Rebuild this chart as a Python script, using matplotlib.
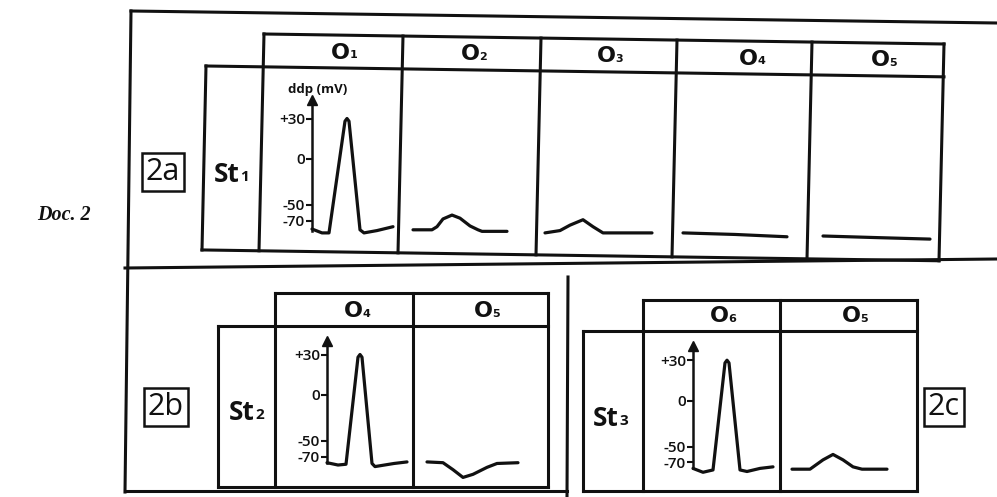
import numpy as np
import matplotlib
matplotlib.use("Agg")
import matplotlib.pyplot as plt
from matplotlib.ticker import NullLocator

plt.rcParams['font.family'] = ['Open Sans', 'DejaVu Sans']

# ---------------- data ----------------
doc_label = "Doc. 2"
panel_labels = ["2a", "2b", "2c"]
stim_labels = ["St", "St", "St"]
stim_subs = ["1", "2", "3"]
row_a_heads = ["1", "2", "3", "4", "5"]      # O1..O5
row_b_heads = ["4", "5"]                      # O4, O5
row_c_heads = ["6", "5"]                      # O6, O5
y_label = "ddp (mV)"
tick_values = [30, 0, -50, -70]
tick_labels = ["+30", "0", "-50", "-70"]

# time in ms, potential in mV (schematic recordings)
a_o1_t = [0, 1.0, 1.7, 3.3, 3.5, 3.7, 4.8, 5.2, 6.5, 8.1]
a_o1_v = [-81, -86, -86, 28, 30, 28, -82, -86, -83, -78]
a_o2_t = [1.0, 2.9, 3.4, 4.0, 4.9, 5.7, 6.7, 7.5, 7.9, 10.4]
a_o2_v = [-82, -82, -78, -68, -63, -67, -77, -82, -84, -84]
a_o3_t = [0.4, 1.9, 2.9, 4.2, 5.2, 6.2, 11.1]
a_o3_v = [-86, -83, -76, -69, -78, -86, -86]
a_o4_t = [0.6, 5.8, 11.0]
a_o4_v = [-86, -88, -91]
a_o5_t = [1.1, 6.3, 11.8]
a_o5_v = [-90, -92, -94]

b_o4_t = [0, 1.1, 1.9, 3.1, 3.3, 3.5, 4.5, 4.8, 6.7, 8.0]
b_o4_v = [-78, -81, -80, 28, 30, 28, -79, -83, -79, -77]
b_o5_t = [1.4, 3.0, 4.0, 5.0, 6.0, 7.4, 8.4, 10.5]
b_o5_v = [-77, -78, -87, -97, -93, -84, -79, -78]

c_o6_t = [0, 1.0, 2.0, 3.2, 3.4, 3.6, 4.7, 5.4, 6.7, 8.0]
c_o6_v = [-78, -83, -80, 28, 30, 28, -80, -82, -78, -76]
c_o5_t = [1.2, 3.0, 4.3, 5.3, 6.3, 7.3, 8.2, 10.7]
c_o5_v = [-79, -79, -67, -60, -67, -76, -79, -79]

# ---------------- figure ----------------
W, H = 997, 497
fig = plt.figure(figsize=(W / 100, H / 100), dpi=100)
fig.patch.set_facecolor("white")
bg = fig.add_axes([0, 0, 1, 1])
bg.set_xlim(0, W)
bg.set_ylim(H, 0)
bg.axis("off")

INK = "#111111"
LW = 2.2


def line(x0, y0, x1, y1, lw=LW):
    bg.plot([x0, x1], [y0, y1], color=INK, lw=lw, solid_capstyle="projecting", clip_on=False)


# schematic (non-linear) potential axis, as drawn in the document
SC_MV = [-70, -50, 0, 30]
SC_PX = [-61.5, -46, 0, 40.5]


def fwd(v):
    v = np.asarray(v, dtype=float)
    out = np.interp(v, SC_MV, SC_PX)
    out = np.where(v < -70, -61.5 + (v + 70) * 0.775, out)
    out = np.where(v > 30, 40.5 + (v - 30) * 1.35, out)
    return out


def inv(g):
    g = np.asarray(g, dtype=float)
    out = np.interp(g, SC_PX, SC_MV)
    out = np.where(g < -61.5, -70 + (g + 61.5) / 0.775, out)
    out = np.where(g > 40.5, 30 + (g - 40.5) / 1.35, out)
    return out


def cell_axes(L, T, R, B, Z, show_axis=False):
    ax = fig.add_axes([L / W, 1 - B / H, (R - L) / W, (B - T) / H])
    ax.set_yscale("function", functions=(fwd, inv))
    ax.set_ylim(float(inv(Z - B)), float(inv(Z - T)))
    ax.set_xlim(0, (R - L) / 10)
    ax.patch.set_visible(False)
    for s in ["top", "right", "bottom"]:
        ax.spines[s].set_visible(False)
    ax.set_xticks([])
    ax.yaxis.set_minor_locator(NullLocator())
    if show_axis:
        ax.spines["left"].set_linewidth(1.8)
        ax.spines["left"].set_color(INK)
        ax.set_yticks(tick_values)
        ax.set_yticklabels(tick_labels, fontweight="semibold")
        ax.tick_params(axis="y", direction="out", length=4, width=1.5, pad=1,
                       labelsize=11, colors=INK)
        ax.plot([0], [1], marker="^", ms=7, color=INK, transform=ax.transAxes,
                clip_on=False)
    else:
        ax.spines["left"].set_visible(False)
        ax.set_yticks([])
    return ax


def trace(ax, t, v):
    ax.plot(t, v, color=INK, lw=2.3, clip_on=False,
            solid_joinstyle="round", solid_capstyle="round")


def sub_label(x, y, main, sub, size, subsize, weight, family=None, gap=0.0):
    kw = {} if family is None else {"family": family}
    t = bg.text(x, y, main, ha="center", va="center", fontsize=size,
                fontweight=weight, color=INK, **kw)
    bg.annotate(sub, xy=(1, 0.12), xycoords=t, xytext=(gap, 0),
                textcoords="offset points", ha="left", va="bottom",
                fontsize=subsize, fontweight=weight, color=INK, **kw)


def boxed(x, y, txt):
    bg.text(x, y, txt, ha="center", va="center", fontsize=22, color=INK,
            bbox=dict(boxstyle="square,pad=0.12", fc="white", ec=INK, lw=1.8))


HEAD_FONT = ["DejaVu Sans"]

# ---- Doc. 2 ----
bg.text(64, 215, doc_label, ha="center", va="center", fontsize=14.5,
        family=["Liberation Serif", "DejaVu Serif"], style="italic",
        fontweight="bold", color=INK)

# ---- panel 2a frame (slightly skewed scan) ----
line(131, 11, 997, 23)
line(131, 11, 125, 492)
line(125, 268, 997, 259)
line(125, 491, 567, 491)
line(568, 277, 567, 497)

sl = 0.0147


def ytop(x):
    return 34 + sl * (x - 264)


def ymid(x):
    return 66 + sl * (x - 206)


def ybot(x):
    return 250 + sl * (x - 206)


line(264, ytop(264), 944, ytop(944))
line(206, ymid(206), 944, ymid(944))
line(202, ybot(202), 939, ybot(939))
line(206, ymid(206), 202, ybot(202))
for xv in [264, 403, 541, 677, 812, 944]:
    line(xv, ytop(xv), xv - 5, ybot(xv - 5))

boxed(163, 172, panel_labels[0])
sub_label(227, 174, stim_labels[0], stim_subs[0], 19, 11, "bold")
for xc, s in zip([340, 470, 606, 748, 880], row_a_heads):
    sub_label(xc, (ytop(xc) + ymid(xc)) / 2 + 1, "O", s, 16, 8, "heavy",
              family=HEAD_FONT)

bg.text(318, 89, y_label, ha="center", va="center", fontsize=9.5,
        fontweight="bold", color=INK)

Z1 = 159
ax = cell_axes(312, 100, 400, 231, Z1, show_axis=True)
trace(ax, a_o1_t, a_o1_v)
ax = cell_axes(403, 100, 535, 231, Z1)
trace(ax, a_o2_t, a_o2_v)
ax = cell_axes(541, 100, 670, 231, Z1)
trace(ax, a_o3_t, a_o3_v)
ax = cell_axes(677, 100, 806, 231, Z1)
trace(ax, a_o4_t, a_o4_v)
ax = cell_axes(812, 100, 940, 231, Z1)
trace(ax, a_o5_t, a_o5_v)

# ---- panel 2b ----
line(275, 293, 548, 293)
line(218, 326, 548, 326)
line(218, 487, 548, 487)
for xv, y0 in [(218, 326), (275, 293), (413, 293), (548, 293)]:
    line(xv, y0, xv, 487)
boxed(166, 407, panel_labels[1])
sub_label(242, 412, stim_labels[1], stim_subs[1], 19, 11, "bold")
for xc, s in zip([353, 483], row_b_heads):
    sub_label(xc, 311, "O", s, 16, 8, "heavy", family=HEAD_FONT)

Z2 = 395
ax = cell_axes(327, 341, 411, 463, Z2, show_axis=True)
trace(ax, b_o4_t, b_o4_v)
ax = cell_axes(413, 341, 546, 463, Z2)
trace(ax, b_o5_t, b_o5_v)

# ---- panel 2c ----
line(643, 300, 917, 300)
line(583, 331, 917, 331)
line(583, 491, 917, 491)
for xv, y0 in [(583, 331), (643, 300), (780, 300), (917, 300)]:
    line(xv, y0, xv, 491)
boxed(944, 407, panel_labels[2])
sub_label(606, 418, stim_labels[2], stim_subs[2], 19, 11, "bold")
for xc, s in zip([719, 851], row_c_heads):
    sub_label(xc, 316, "O", s, 16, 8, "heavy", family=HEAD_FONT)

Z3 = 400.7
ax = cell_axes(693, 346, 778, 468, Z3, show_axis=True)
trace(ax, c_o6_t, c_o6_v)
ax = cell_axes(780, 346, 915, 468, Z3)
trace(ax, c_o5_t, c_o5_v)

fig.savefig("out.png", dpi=100, facecolor="white")
